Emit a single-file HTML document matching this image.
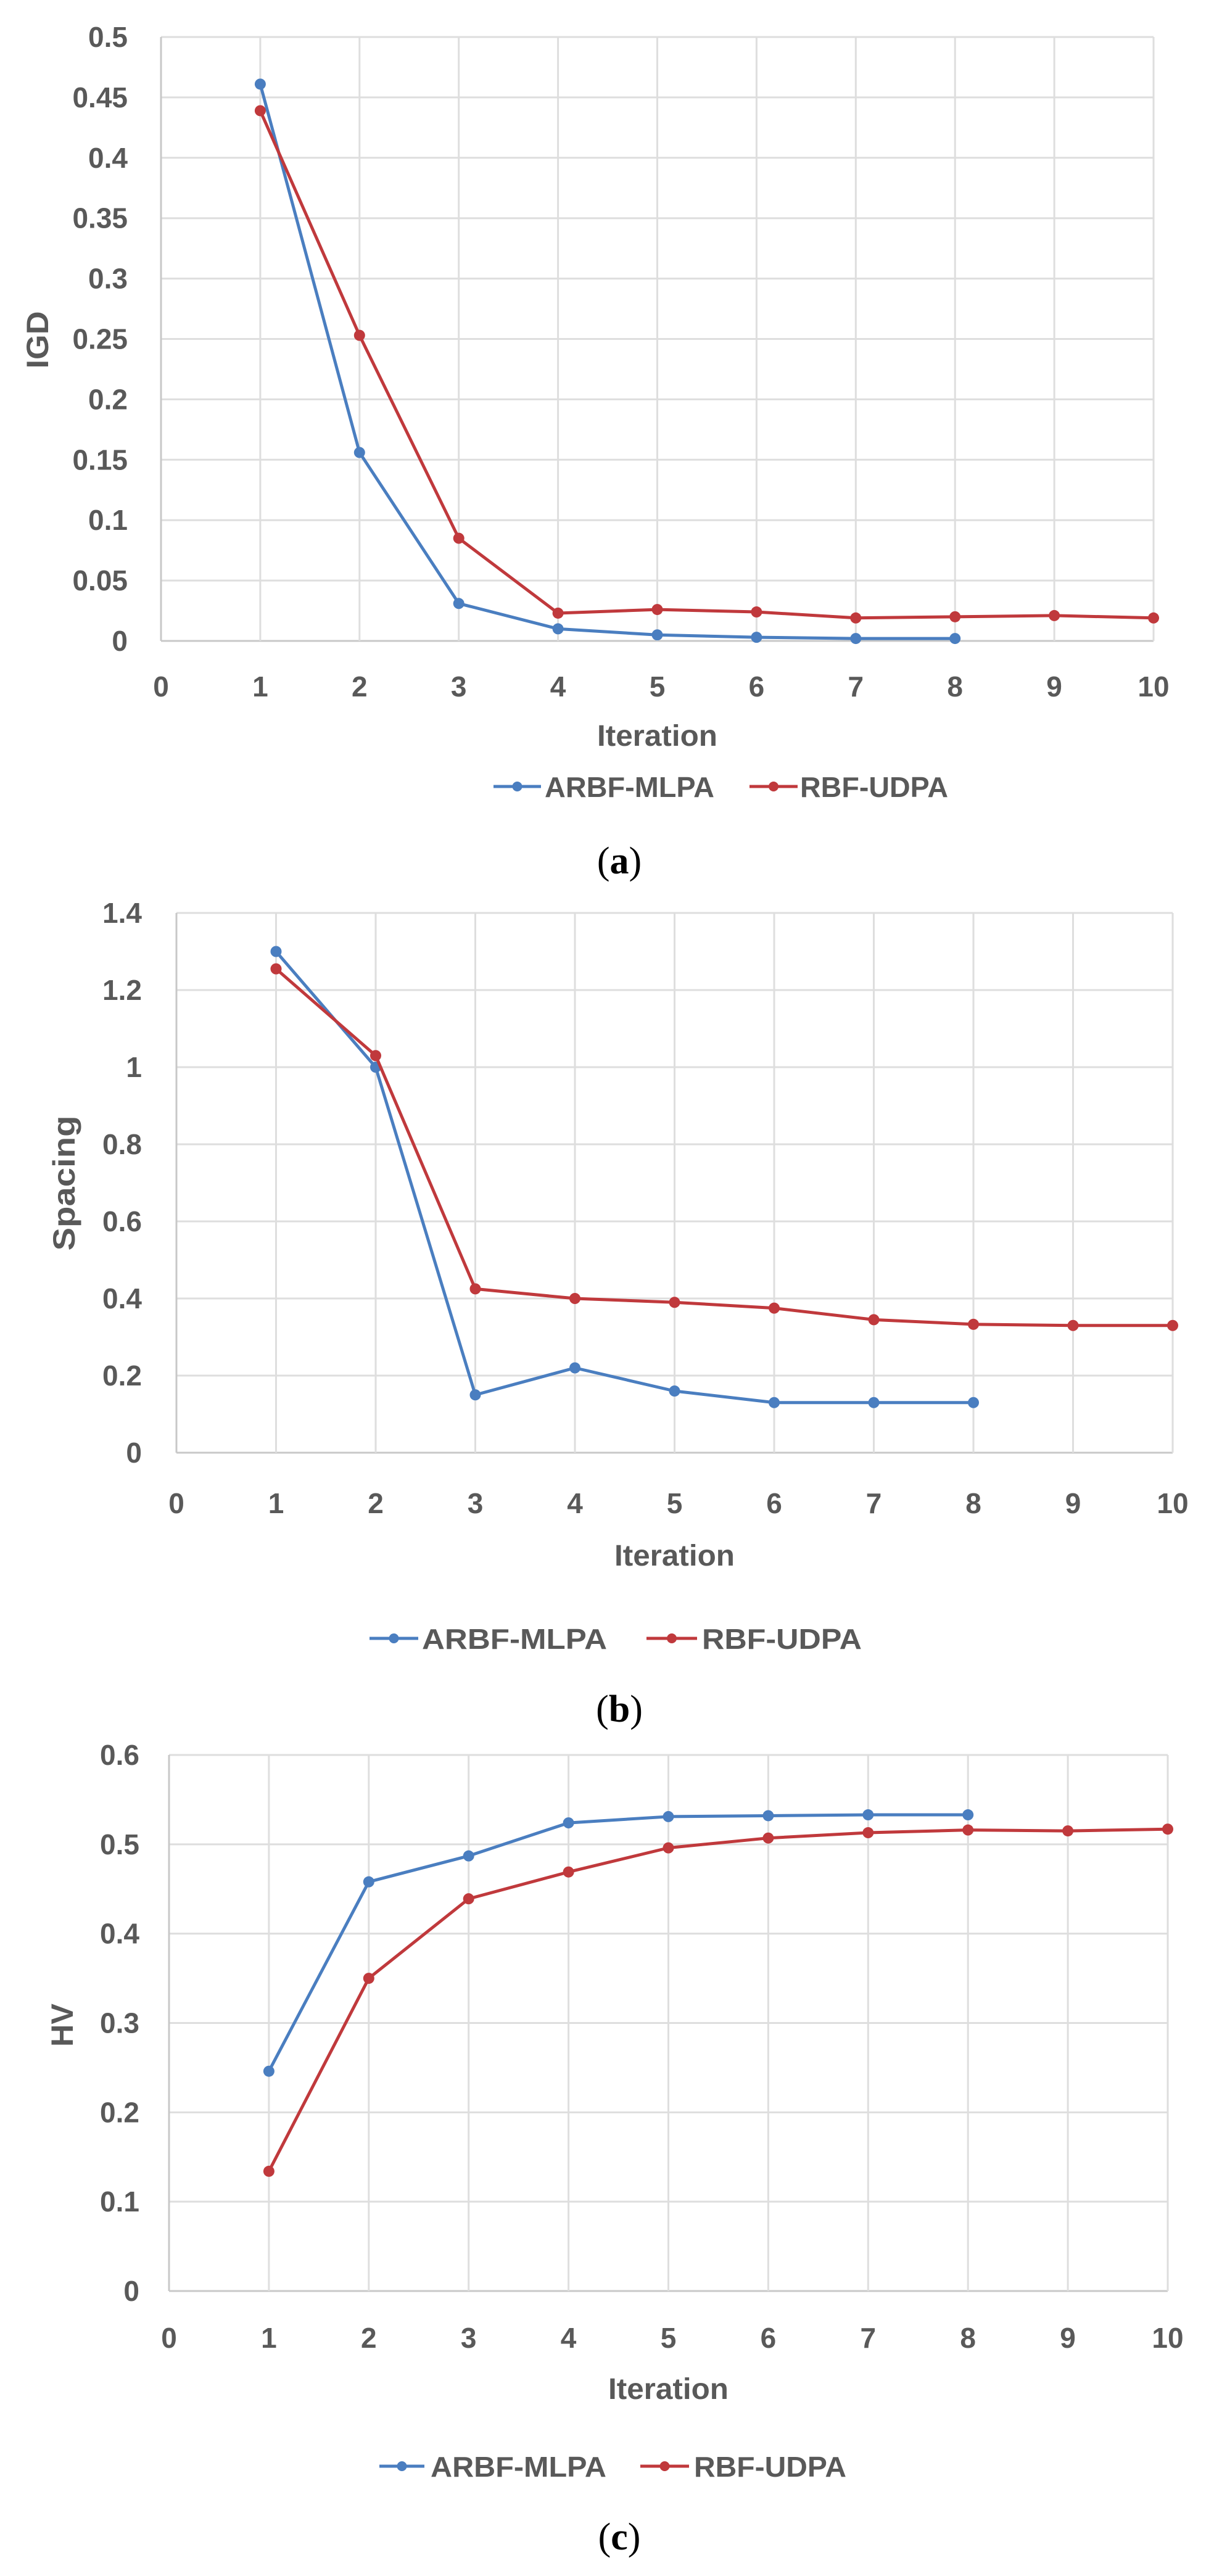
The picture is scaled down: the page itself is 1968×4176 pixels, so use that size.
<!DOCTYPE html>
<html><head><meta charset="utf-8"><title>IGD, Spacing and HV by iteration: ARBF-MLPA vs RBF-UDPA</title>
<style>
html,body{margin:0;padding:0;background:#fff;}
svg{display:block;}
text{font-family:"Liberation Sans",sans-serif;}
</style></head>
<body>
<svg id="fig" width="1968" height="4176" viewBox="0 0 1968 4176" xmlns="http://www.w3.org/2000/svg"></svg>
<script>
// ---- data ----
const xTicks = [0,1,2,3,4,5,6,7,8,9,10];
const igdYTicks = [0,0.05,0.1,0.15,0.2,0.25,0.3,0.35,0.4,0.45,0.5];
const igdYLabels = ["0","0.05","0.1","0.15","0.2","0.25","0.3","0.35","0.4","0.45","0.5"];
const igdArbfX = [1,2,3,4,5,6,7,8];
const igdArbf = [0.461,0.156,0.031,0.010,0.005,0.003,0.002,0.002];
const igdRbfX = [1,2,3,4,5,6,7,8,9,10];
const igdRbf = [0.439,0.253,0.085,0.023,0.026,0.024,0.019,0.020,0.021,0.019];

const spYTicks = [0,0.2,0.4,0.6,0.8,1,1.2,1.4];
const spYLabels = ["0","0.2","0.4","0.6","0.8","1","1.2","1.4"];
const spArbfX = [1,2,3,4,5,6,7,8];
const spArbf = [1.30,1.00,0.15,0.22,0.16,0.13,0.13,0.13];
const spRbfX = [1,2,3,4,5,6,7,8,9,10];
const spRbf = [1.255,1.03,0.425,0.40,0.39,0.375,0.345,0.333,0.33,0.33];

const hvYTicks = [0,0.1,0.2,0.3,0.4,0.5,0.6];
const hvYLabels = ["0","0.1","0.2","0.3","0.4","0.5","0.6"];
const hvArbfX = [1,2,3,4,5,6,7,8];
const hvArbf = [0.246,0.458,0.487,0.524,0.531,0.532,0.533,0.533];
const hvRbfX = [1,2,3,4,5,6,7,8,9,10];
const hvRbf = [0.134,0.350,0.439,0.469,0.496,0.507,0.513,0.516,0.515,0.517];

const NS = "http://www.w3.org/2000/svg";
const svg = document.getElementById('fig');
const BLUE = "#4a7ec0", RED = "#c0393c", TXT = "#595959";

function mk(tag, attrs, parent){
  const e = document.createElementNS(NS, tag);
  for (const k in attrs) e.setAttribute(k, attrs[k]);
  (parent||svg).appendChild(e);
  return e;
}

function drawChart(cfg){
  const g = mk('g', {});
  
  
  const L=cfg.left, R=cfg.right, T=cfg.top, B=cfg.bottom;
  const yMax = cfg.yTicks[cfg.yTicks.length-1];
  const xs = v => L + (v - 0) / 10 * (R - L);
  const ys = v => B - v / yMax * (B - T);
  // horizontal gridlines
  cfg.yTicks.forEach((t,i)=>{
    const ln = mk('line',{x1:L,x2:R,y1:ys(t),y2:ys(t),stroke:i===0?"#c8c8c8":"#dedede","stroke-width":3},g);
    
    
    const tx = mk('text',{x:cfg.tickRight,y:ys(t)+16,"text-anchor":"end","font-size":46,"font-weight":"bold",fill:TXT},g);
    
    
    tx.textContent = cfg.yLabels[i];
  });
  // vertical gridlines
  xTicks.forEach(t=>{
    const ln = mk('line',{x1:xs(t),x2:xs(t),y1:T,y2:B,stroke:t===0?"#c8c8c8":"#dedede","stroke-width":3},g);
    
    
    const tx = mk('text',{x:xs(t),y:cfg.xLabelY+17,"text-anchor":"middle","font-size":46,"font-weight":"bold",fill:TXT},g);
    
    
    tx.textContent = String(t);
  });
  // axis titles
  const xt = mk('text',{x:(L+R)/2,y:cfg.iterY+17,"text-anchor":"middle","font-size":48,"font-weight":"bold",fill:TXT,textLength:195,lengthAdjust:"spacingAndGlyphs"},g);
  
  
  xt.textContent = "Iteration";
  const yt = mk('text',{x:0,y:0,"text-anchor":"middle","font-size":50,"font-weight":"bold",fill:TXT,textLength:cfg.yTitleLen,lengthAdjust:"spacingAndGlyphs",transform:`translate(${cfg.yTitleX+18},${cfg.yTitleY}) rotate(-90)`},g);
  
  
  yt.textContent = cfg.yTitle;
  // series
  const series = [
    {name:'arbf-mlpa', xs:cfg.aX, ys:cfg.aY, color:BLUE},
    {name:'rbf-udpa', xs:cfg.rX, ys:cfg.rY, color:RED}
  ];
  series.forEach(s=>{
    const pts = s.xs.map((x,i)=>xs(x)+','+ys(s.ys[i])).join(' ');
    const pl = mk('polyline',{points:pts,fill:"none",stroke:s.color,"stroke-width":5,"stroke-linejoin":"round"},g);
    
    
    s.xs.forEach((x,i)=>{
      const c = mk('circle',{cx:xs(x),cy:ys(s.ys[i]),r:9,fill:s.color},g);
      
      
    });
  });
  // legend
  const lg = mk('g',{},g);
  
  
  const entries = [
    {label:'ARBF-MLPA', x1:cfg.lgB[0], x2:cfg.lgB[1], tx:cfg.lgB[2], tl:cfg.lgB[3], color:BLUE, name:'legend-arbf-mlpa'},
    {label:'RBF-UDPA', x1:cfg.lgR[0], x2:cfg.lgR[1], tx:cfg.lgR[2], tl:cfg.lgR[3], color:RED, name:'legend-rbf-udpa'}
  ];
  entries.forEach(e=>{
    const eg = mk('g',{},lg);
    
    
    mk('line',{x1:e.x1,x2:e.x2,y1:cfg.legendY,y2:cfg.legendY,stroke:e.color,"stroke-width":5},eg);
    mk('circle',{cx:(e.x1+e.x2)/2,cy:cfg.legendY,r:8,fill:e.color},eg);
    const t = mk('text',{x:e.tx,y:cfg.legendY+17,"font-size":46,"font-weight":"bold",fill:TXT,textLength:e.tl,lengthAdjust:"spacingAndGlyphs"},eg);
    t.textContent = e.label;
  });
  // caption
  const cap = mk('text',{x:1004,y:cfg.capY+20,"text-anchor":"middle","font-size":62,fill:"#000","font-family":"Liberation Serif, serif"},g);
  
  
  cap.setAttribute('style','font-family:"Liberation Serif",serif');
  cap.innerHTML = '(<tspan font-weight="bold">' + cfg.cap + '</tspan>)';
}

drawChart({name:'igd', left:261, right:1870, top:60, bottom:1039, tickRight:207,
  yTicks:igdYTicks, yLabels:igdYLabels, aX:igdArbfX, aY:igdArbf, rX:igdRbfX, rY:igdRbf,
  xLabelY:1112, iterY:1192, legendY:1275, capY:1396, yTitle:'IGD', yTitleX:60, yTitleY:551, yTitleLen:93,
  lgB:[800,877,883,275], lgR:[1215,1293,1297,240], cap:'a'});

drawChart({name:'spacing', left:286, right:1901, top:1480, bottom:2355, tickRight:230,
  yTicks:spYTicks, yLabels:spYLabels, aX:spArbfX, aY:spArbf, rX:spRbfX, rY:spRbf,
  xLabelY:2436, iterY:2521, legendY:2656, capY:2771, yTitle:'Spacing', yTitleX:103, yTitleY:1918, yTitleLen:219,
  lgB:[599,678,684,300], lgR:[1048,1130,1138,259], cap:'b'});

drawChart({name:'hv', left:274, right:1893, top:2845, bottom:3714, tickRight:226,
  yTicks:hvYTicks, yLabels:hvYLabels, aX:hvArbfX, aY:hvArbf, rX:hvRbfX, rY:hvRbf,
  xLabelY:3789, iterY:3872, legendY:3998, capY:4113, yTitle:'HV', yTitleX:100, yTitleY:3283, yTitleLen:70,
  lgB:[615,688,698,285], lgR:[1038,1117,1125,247], cap:'c'});
</script>
</body></html>
